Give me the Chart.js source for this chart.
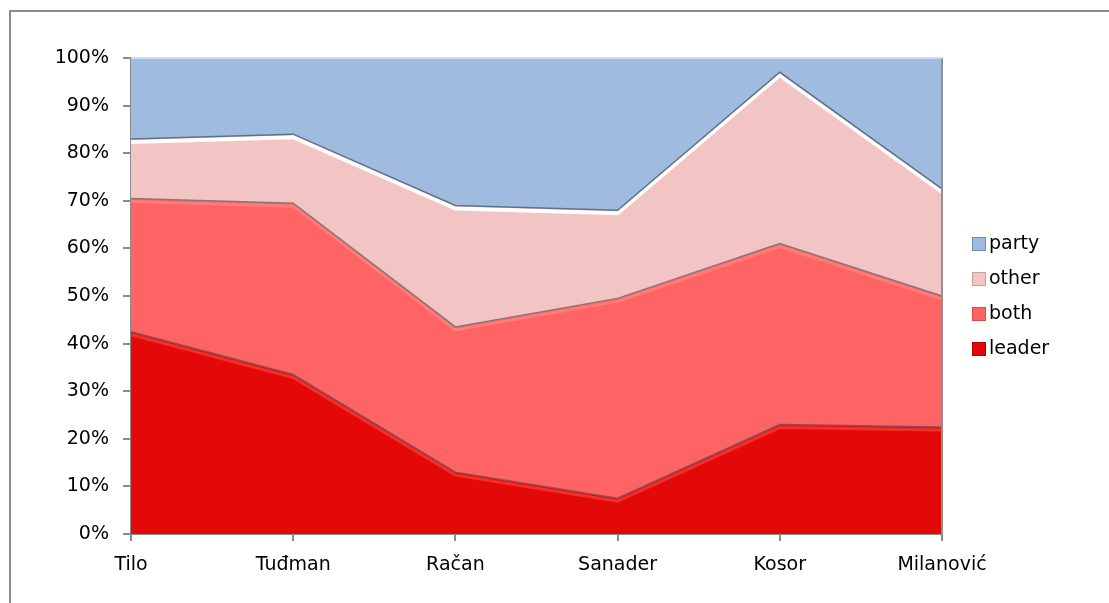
<!DOCTYPE html>
<html lang="en">
<head>
    <meta charset="UTF-8">
    <title>Leader / party share</title>
    <script src="https://cdn.jsdelivr.net/npm/chart.js"></script>
    <style>
        html, body { margin: 0; padding: 0; background: #fff; }
        #wrap { width: 1109px; height: 603px; position: relative; }
    </style>
</head>
<body>
    <div id="wrap"><canvas id="areaChart" width="1109" height="603"></canvas></div>

    <script>
        // categories (x axis)
        const leaders = ['Tilo', 'Tuđman', 'Račan', 'Sanader', 'Kosor', 'Milanović'];

        // series values, percent of total (stacked to 100)
        const leader = [42.5, 33.5, 13, 7.5, 23, 22.5];
        const both   = [28, 36, 30.5, 42, 38, 27.5];
        const other  = [12.5, 14.5, 25.5, 18.5, 36, 22.5];
        const party  = [17, 16, 31, 32, 3, 27.5];

        const yTicks = [0, 10, 20, 30, 40, 50, 60, 70, 80, 90, 100];

        const seriesNames = ['leader', 'both', 'other', 'party'];
        const seriesData = [leader, both, other, party];
        const fills = ['#e30909', '#ff6464', '#f2c4c4', '#9fbbe0'];
        const lines = ['#8a5050', '#8a7575', '#5f7189', '#64788f'];
        const glows = ['rgba(255,70,70,0.6)', 'rgba(255,150,150,0.45)', 'rgba(255,255,255,0.95)', 'rgba(200,225,250,0.8)'];
        const swatches = ['#b00000', '#e04848', '#c8a0a0', '#6f8cb4'];

        const FONT = "'DejaVu Sans', Verdana, sans-serif";

        // grey frame round the chart object
        const framePlugin = {
            id: 'frame',
            beforeDraw(chart) {
                const ctx = chart.ctx;
                ctx.save();
                ctx.strokeStyle = '#8c8c8c';
                ctx.lineWidth = 2;
                ctx.beginPath();
                ctx.moveTo(10, 603);
                ctx.lineTo(10, 11);
                ctx.lineTo(1109, 11);
                ctx.stroke();
                ctx.restore();
            },
            beforeDatasetDraw(chart, args) {
                // light bevel just under each area's top edge
                const i = args.index;
                if (i === 3) return;
                const meta = args.meta;
                const ctx = chart.ctx;
                const a = chart.chartArea;
                ctx.save();
                ctx.beginPath();
                ctx.rect(a.left, a.top, a.right - a.left, a.bottom - a.top);
                ctx.clip();
                ctx.strokeStyle = glows[i];
                ctx.lineWidth = i === 2 ? 4 : 3;
                ctx.beginPath();
                meta.data.forEach((p, k) => {
                    if (k === 0) ctx.moveTo(p.x, p.y + 3);
                    else ctx.lineTo(p.x, p.y + 3);
                });
                ctx.stroke();
                ctx.restore();
            },
            afterDatasetsDraw(chart) {
                const a = chart.chartArea;
                const ctx = chart.ctx;
                ctx.save();
                ctx.strokeStyle = '#909090';
                ctx.lineWidth = 2;
                ctx.beginPath();
                ctx.moveTo(a.right, a.top);
                ctx.lineTo(a.right, a.bottom);
                ctx.stroke();
                ctx.strokeStyle = '#c8dcf2';
                ctx.beginPath();
                ctx.moveTo(a.left, a.top);
                ctx.lineTo(a.right, a.top);
                ctx.stroke();
                ctx.restore();
            }
        };

        // legend on the right, top series first
        const legendPlugin = {
            id: 'sideLegend',
            afterDraw(chart) {
                const ctx = chart.ctx;
                const x = 972, y0 = 244, step = 35;
                ctx.save();
                ctx.font = '19px ' + FONT;
                ctx.textBaseline = 'middle';
                chart.data.datasets.slice().reverse().forEach((ds, i) => {
                    const y = y0 + i * step;
                    ctx.fillStyle = ds.backgroundColor;
                    ctx.fillRect(x, y - 7, 14, 14);
                    ctx.strokeStyle = ds.legendEdge;
                    ctx.lineWidth = 1;
                    ctx.strokeRect(x + 0.5, y - 6.5, 13, 13);
                    ctx.fillStyle = '#000';
                    ctx.fillText(ds.label, x + 17, y);
                });
                ctx.restore();
            }
        };

        const datasets = seriesNames.map((name, i) => ({
            label: name,
            data: seriesData[i],
            backgroundColor: fills[i],
            borderColor: lines[i],
            borderWidth: 1.5,
            pointRadius: 0,
            tension: 0,
            fill: i === 0 ? 'origin' : '-1',
            legendEdge: swatches[i]
        }));

        new Chart(document.getElementById('areaChart').getContext('2d'), {
            type: 'line',
            data: { labels: leaders, datasets: datasets },
            plugins: [framePlugin, legendPlugin],
            options: {
                responsive: false,
                animation: false,
                layout: { padding: { left: 0, right: 167, top: 58, bottom: 0 } },
                plugins: {
                    legend: { display: false },
                    tooltip: { enabled: false }
                },
                scales: {
                    x: {
                        offset: false,
                        grid: { drawOnChartArea: false, color: '#8c8c8c', tickLength: 7, lineWidth: 2 },
                        border: { color: '#8c8c8c', width: 2 },
                        ticks: { color: '#000', font: { family: FONT, size: 19 }, padding: 13, maxRotation: 0 },
                        afterFit(scale) { scale.height = 69; }
                    },
                    y: {
                        stacked: true,
                        min: 0,
                        max: 100,
                        afterBuildTicks(scale) { scale.ticks = yTicks.map(v => ({ value: v })); },
                        grid: { drawOnChartArea: false, color: '#8c8c8c', tickLength: 8, lineWidth: 2 },
                        border: { color: '#8c8c8c', width: 2 },
                        ticks: {
                            color: '#000',
                            font: { family: FONT, size: 19 },
                            padding: 14,
                            callback: v => v + '%'
                        },
                        afterFit(scale) { scale.width = 131; }
                    }
                }
            }
        });
    </script>
</body>
</html>
